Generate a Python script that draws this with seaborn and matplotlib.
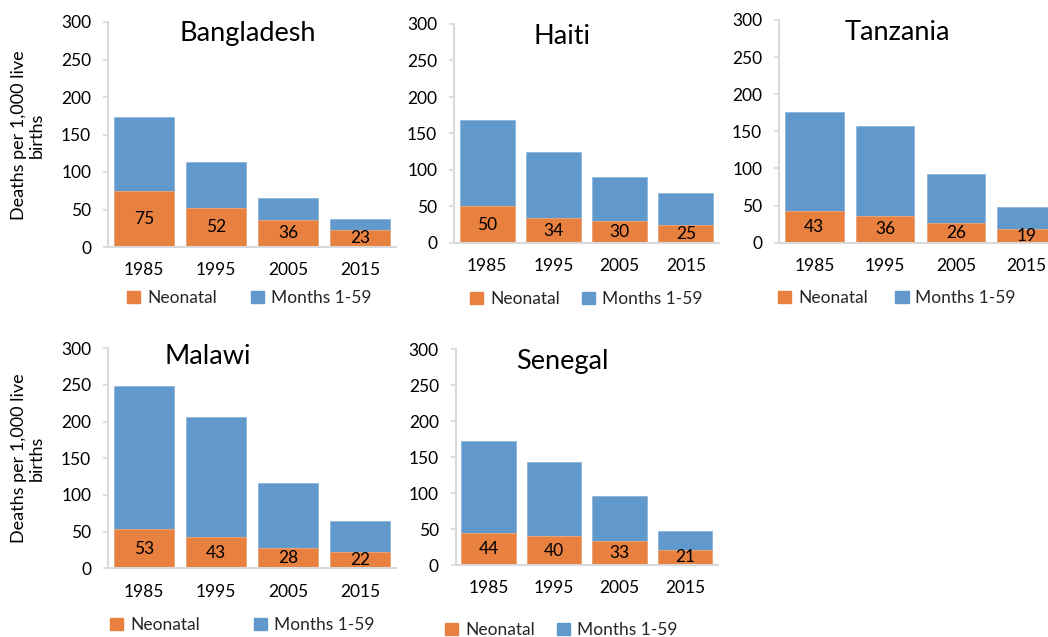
import matplotlib
matplotlib.use("Agg")
import matplotlib.pyplot as plt
import matplotlib.patches as mpatches
import seaborn as sns
import numpy as np

years = ["1985", "1995", "2005", "2015"]
countries = ["Bangladesh", "Haiti", "Tanzania", "Malawi", "Senegal"]

neonatal_bangladesh = [75, 52, 36, 23]
months_bangladesh = [98, 62, 30, 14]
neonatal_haiti = [50, 34, 30, 25]
months_haiti = [118, 91, 60, 44]
neonatal_tanzania = [43, 36, 26, 19]
months_tanzania = [133, 121, 66, 29]
neonatal_malawi = [53, 43, 28, 22]
months_malawi = [195, 164, 88, 42]
neonatal_senegal = [44, 40, 33, 21]
months_senegal = [129, 103, 63, 26]

series_names = ["Neonatal", "Months 1-59"]
y_label = "Deaths per 1,000 live\nbirths"
yticks = [0, 50, 100, 150, 200, 250, 300]

ORANGE = "#E8803F"
BLUE = "#6199CC"
GRAY = "#D9D9D9"

sns.set_style("white")
plt.rcParams["font.family"] = ["Lato", "DejaVu Sans"]

W, H = 1048, 637
fig = plt.figure(figsize=(W / 100, H / 100), dpi=100)

def fx(px):
    return px / W

def fy(py):
    return 1 - py / H

# layout: (left px, right px, top px, bottom px), title (x px, y px), legend (left px, y px, colspacing)
layout = {
    "Bangladesh": dict(box=(108, 396, 22, 247), title=(248, 33), leg=(127, 298, 2.0)),
    "Haiti": dict(box=(454, 719, 24, 243), title=(562, 36), leg=(470, 299, 1.3)),
    "Tanzania": dict(box=(779, 1062, 20, 242.7), title=(897, 33), leg=(778, 298, 1.6)),
    "Malawi": dict(box=(108, 396, 348.3, 568.3), title=(208, 357), leg=(110, 625, 3.1)),
    "Senegal": dict(box=(455.7, 717.7, 349.3, 565), title=(562, 362), leg=(445, 630, 1.3)),
}
data = {
    "Bangladesh": (neonatal_bangladesh, months_bangladesh),
    "Haiti": (neonatal_haiti, months_haiti),
    "Tanzania": (neonatal_tanzania, months_tanzania),
    "Malawi": (neonatal_malawi, months_malawi),
    "Senegal": (neonatal_senegal, months_senegal),
}

for c in countries:
    L = layout[c]
    l, r, t, b = L["box"]
    ax = fig.add_axes([fx(l), fy(b), fx(r - l), (b - t) / H])
    neo, mon = data[c]
    total = [n + m for n, m in zip(neo, mon)]
    sns.barplot(x=years, y=total, color=BLUE, width=0.83, ax=ax, saturation=1,
                edgecolor="#8DB6DD", linewidth=0.6)
    sns.barplot(x=years, y=neo, color=ORANGE, width=0.83, ax=ax, saturation=1,
                edgecolor="#F0A878", linewidth=0.6)
    ax.set_ylim(0, 300)
    ax.set_xlim(-0.5, 3.5)
    ax.set_yticks(yticks)
    ax.set_xlabel("")
    ax.set_ylabel("")
    for s in ["top", "right"]:
        ax.spines[s].set_visible(False)
    for s in ["left", "bottom"]:
        ax.spines[s].set_color(GRAY)
        ax.spines[s].set_linewidth(1.5)
    ax.tick_params(axis="y", length=3.6, width=1.2, color=GRAY, pad=8.5,
                   labelsize=12.5, labelcolor="black", left=True)
    ax.tick_params(axis="x", length=0, pad=11, labelsize=12.5, labelcolor="black")
    for i, v in enumerate(neo):
        ax.text(i, v / 2, str(v), ha="center", va="center", fontsize=12.5, color="black")
    fig.text(fx(L["title"][0]), fy(L["title"][1]), c, ha="center", va="center",
             fontsize=19.5, color="black")
    lx, ly, cs = L["leg"]
    handles = [mpatches.Patch(color=ORANGE, label=series_names[0]),
               mpatches.Patch(color=BLUE, label=series_names[1])]
    fig.legend(handles=handles, loc="center left", bbox_to_anchor=(fx(lx), fy(ly)),
               ncol=2, frameon=False, fontsize=12.5, borderpad=0, borderaxespad=0,
               handlelength=0.75, handleheight=0.75, handletextpad=0.4,
               columnspacing=cs)

for yc in [135, 458]:
    fig.text(fx(28), fy(yc), y_label, rotation=90, ha="center", va="center",
             multialignment="center", fontsize=13, color="black", linespacing=1.15)

fig.savefig("out.png", dpi=100)
